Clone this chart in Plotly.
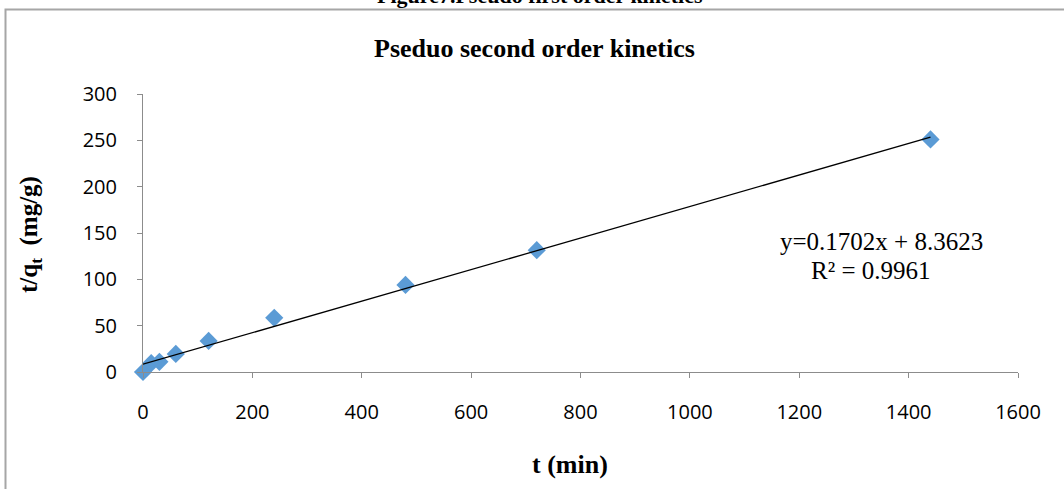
import plotly.graph_objects as go

# Data
t_min = [0, 15, 30, 60, 120, 240, 480, 720, 1440]
t_over_qt = [0, 9.5, 11, 19.5, 33.5, 58.5, 94, 131.5, 251]

slope = 0.1702
intercept = 8.3623
fit_x = [0, 1440]
fit_y = [slope * x + intercept for x in fit_x]

x_ticks = [0, 200, 400, 600, 800, 1000, 1200, 1400, 1600]
y_ticks = [0, 50, 100, 150, 200, 250, 300]

W, H = 1064, 489
ml, mr, mt, mb = 143, 46, 94, 117
pw, ph = W - ml - mr, H - mt - mb

def px_to_paper_x(px):
    return (px - ml) / pw

def px_to_paper_y(py):
    return (H - mb - py) / ph

serif = "Liberation Serif, Times New Roman, serif"
sans = "Open Sans, Liberation Sans, sans-serif"

fig = go.Figure()
fig.add_trace(go.Scatter(
    x=t_min, y=t_over_qt, mode="markers",
    marker=dict(symbol="diamond", size=14, color="#5B9BD5"),
    showlegend=False, cliponaxis=False,
))
fig.add_trace(go.Scatter(
    x=fit_x, y=fit_y, mode="lines",
    line=dict(color="black", width=1.3),
    showlegend=False,
))

fig.update_layout(
    width=W, height=H,
    margin=dict(l=ml, r=mr, t=mt, b=mb),
    paper_bgcolor="white", plot_bgcolor="white",
    showlegend=False,
    xaxis=dict(
        range=[0, 1600], tickvals=x_ticks, showgrid=False, zeroline=False,
        showline=True, linecolor="#8c8c8c", linewidth=1,
        ticks="outside", ticklen=5, tickcolor="#8c8c8c",
        tickfont=dict(family=sans, size=20, color="black"),
        ticklabelstandoff=17,
    ),
    yaxis=dict(
        range=[0, 300], tickvals=y_ticks, showgrid=False, zeroline=False,
        showline=True, linecolor="#8c8c8c", linewidth=1,
        ticks="outside", ticklen=5, tickcolor="#8c8c8c",
        tickfont=dict(family=sans, size=20, color="black"),
        ticklabelstandoff=16,
    ),
    shapes=[dict(
        type="rect", xref="paper", yref="paper",
        x0=px_to_paper_x(5.5), x1=px_to_paper_x(1075),
        y0=px_to_paper_y(500), y1=px_to_paper_y(9.5),
        line=dict(color="#a6a6a6", width=2), fillcolor="rgba(0,0,0,0)",
        layer="below",
    )],
    annotations=[
        dict(text="<b>Figure7.Pseudo first order kinetics</b>", xref="paper", yref="paper",
             x=px_to_paper_x(540), y=px_to_paper_y(-5), xanchor="center", yanchor="middle",
             showarrow=False, font=dict(family=serif, size=22, color="black")),
        dict(text="<b>Pseduo second order kinetics</b>", xref="paper", yref="paper",
             x=px_to_paper_x(534), y=px_to_paper_y(49), xanchor="center", yanchor="middle",
             showarrow=False, font=dict(family=serif, size=26, color="black")),
        dict(text="<b>t (min)</b>", xref="paper", yref="paper",
             x=px_to_paper_x(570), y=px_to_paper_y(464), xanchor="center", yanchor="middle",
             showarrow=False, font=dict(family=serif, size=26, color="black")),
        dict(text="<b>t/q<sub>t</sub>  (mg/g)</b>", xref="paper", yref="paper",
             x=px_to_paper_x(30), y=px_to_paper_y(235), xanchor="center", yanchor="middle",
             textangle=-90, showarrow=False, font=dict(family=serif, size=25, color="black")),
        dict(text="y=0.1702x + 8.3623", xref="paper", yref="paper",
             x=px_to_paper_x(881), y=px_to_paper_y(241), xanchor="center", yanchor="middle",
             showarrow=False, font=dict(family=serif, size=25, color="black")),
        dict(text="R² = 0.9961", xref="paper", yref="paper",
             x=px_to_paper_x(871), y=px_to_paper_y(270), xanchor="center", yanchor="middle",
             showarrow=False, font=dict(family=serif, size=25, color="black")),
    ],
)

fig.write_html(
    "out.html",
    config={"displayModeBar": False},
    post_script="document.body.style.margin='0';document.body.style.overflow='hidden';",
)
